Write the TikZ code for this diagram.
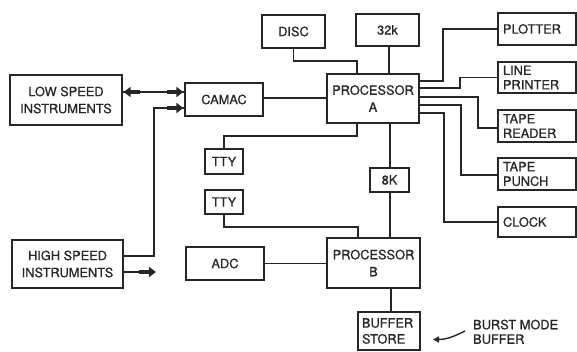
\documentclass[tikz,border=0pt]{standalone}
\usepackage{fontspec}
\setmainfont{TeX Gyre Heros}[FakeBold=0.7]
\newfontfamily\heavy{TeX Gyre Heros}[FakeBold=0.7]
\usetikzlibrary{arrows.meta}
\begin{document}
\begin{tikzpicture}[x=1pt,y=-1pt,
  box/.style={draw=black!85, line width=1.3pt, inner sep=0pt, align=center,
    font=\heavy\fontsize{12.8}{17}\selectfont, text=black!85},
  rbox/.style={box, minimum width=78pt, text width=68pt, align=left,
    font=\heavy\fontsize{12.8}{14.5}\selectfont},
  wire/.style={draw=black!85, line width=1.3pt},
  fat/.style={draw=black!85, fill=black!85, line width=3.8pt, -{Triangle[length=7pt,width=10pt]}}]
\useasboundingbox (0,0) rectangle (577,352);

% left
\node[box, minimum width=112pt, minimum height=50pt] (low) at (66,100) {LOW SPEED\\INSTRUMENTS};
\node[box, minimum width=111pt, minimum height=48pt] (high) at (67.5,264) {HIGH SPEED\\INSTRUMENTS};
\node[box, minimum width=78pt, minimum height=33pt] (camac) at (224,99.5) {CAMAC};
% processors
\node[box, minimum width=92pt, minimum height=49pt] (pa) at (373,98.5) {PROCESSOR\\A};
\node[box, minimum width=93pt, minimum height=50pt] (pb) at (373.5,263) {PROCESSOR\\B};
% top
\node[box, minimum width=63pt, minimum height=33pt] (disc) at (293.5,31.5) {DISC};
\node[box, minimum width=63pt, minimum height=32pt] (k32) at (387.5,30) {32k};
% middle
\node[box, minimum width=38pt, minimum height=25pt] (tty1) at (224,161.5) {TTY};
\node[box, minimum width=39pt, minimum height=24pt] (k8) at (389.5,180) {8K};
\node[box, minimum width=38pt, minimum height=24pt] (tty2) at (224,202) {TTY};
\node[box, minimum width=78pt, minimum height=33pt] (adc) at (225,263.5) {ADC};
\node[rbox, minimum width=62pt, text width=54pt, minimum height=38pt,
      font=\heavy\fontsize{12.8}{16}\selectfont] (buf) at (389,331) {BUFFER\\STORE};
% right column
\node[rbox, minimum height=32pt] (plot) at (537,29) {PLOTTER};
\node[rbox, minimum height=31pt] (lp) at (537,77.5) {LINE\\PRINTER};
\node[rbox, minimum height=32pt] (tr) at (537,126) {TAPE\\READER};
\node[rbox, minimum height=32pt] (tp) at (537,174) {TAPE\\PUNCH};
\node[rbox, minimum height=30pt] (clk) at (537,222) {CLOCK};
% annotation
\node[anchor=north west, inner sep=0pt, align=left, text=black!85,
      font=\heavy\fontsize{12.8}{14.5}\selectfont] (burst) at (473,319.5) {BURST MODE\\BUFFER};

% coordinates for free ends
\coordinate (a1l) at (low.east|-0,92);
\coordinate (a1r) at (camac.west|-0,92);
\coordinate (a2c) at (154,108);
\coordinate (a3) at (156,272);
\coordinate (bt) at (465,331);
\coordinate (bh) at (433,339.5);

% low <-> camac
\draw[wire] (a1l) -- (a1r);
\draw[fat] ([xshift=17pt]a1l) -- ([xshift=1pt]a1l);
\draw[fat] ([xshift=-17pt]a1r) -- ([xshift=-1pt]a1r);
% high -> camac
\draw[wire] (high.east|-0,256) -| (a2c) -- (camac.west|-a2c);
\draw[fat] ([xshift=-17pt]camac.west|-a2c) -- ([xshift=-1pt]camac.west|-a2c);
% high -> out
\draw[wire] (high.east|-a3) -- ([xshift=-14pt]a3);
\draw[fat] ([xshift=-17pt]a3) -- (a3);

% processor A
\draw[wire] (camac.east|-0,98) -- (pa.west|-0,98);
\draw[wire] (disc.south) -- (disc.south|-0,61) -| ([xshift=-16pt]pa.north);
\draw[wire] (k32.south-|389,0) -- (pa.north-|389,0);
\draw[wire] (tty1.north) |- ([xshift=-16pt]pa.south|-0,136) -- ([xshift=-16pt]pa.south);
\draw[wire] (pa.south-|390,0) -- (k8.north-|390,0);
\draw[wire] (k8.south-|390,0) -- (pb.north-|390,0);
% processor B
\draw[wire] (tty2.south) |- ([xshift=-15.5pt]pb.north|-0,227) -- ([xshift=-15.5pt]pb.north);
\draw[wire] (adc.east) -- (adc.east-|pb.west);
\draw[wire] (pb.south-|391,0) -- (buf.north-|391,0);
% right fan-out
\draw[wire] (pa.east|-0,81) -- (443,81) |- (plot.west);
\draw[wire] (pa.east|-0,88) -- (460,88) |- (lp.west);
\draw[wire] (pa.east|-0,97) -- (478,97) |- ([yshift=-2pt]tr.west);
\draw[wire] (pa.east|-0,105) -- (461,105) |- ([yshift=-1pt]tp.west);
\draw[wire] (pa.east|-0,113) -- (444,113) |- (clk.west);

% burst arrow
\draw[wire, line width=1.4pt, -{Triangle[length=6pt,width=6pt]}] (bt) .. controls (453,337) and (446,339.5) .. (bh);
\end{tikzpicture}
\end{document}
